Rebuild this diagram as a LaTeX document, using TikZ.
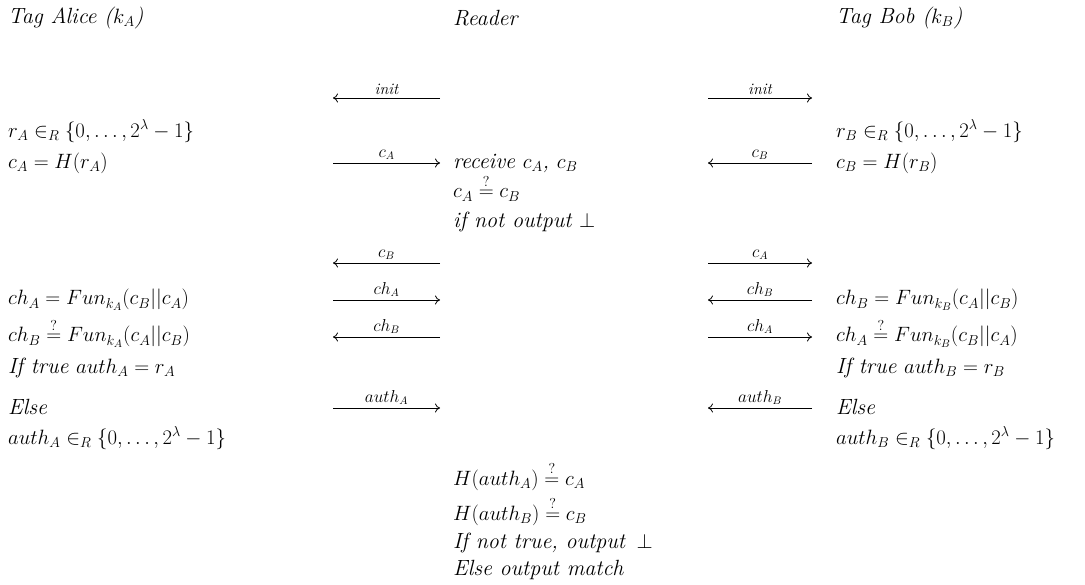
\documentclass[tikz,border=0pt]{standalone}
\usepackage{amssymb}
\usetikzlibrary{arrows.meta}
\newcommand{\qeq}{\mathrel{\smash{\stackrel{?}{=}}}}
\begin{document}
\begin{tikzpicture}[x=1pt,y=-1pt,
  txt/.style={anchor=west,inner sep=0pt,font=\fontsize{22}{26}\selectfont\itshape},
  msg/.style={thick,-{To[length=5pt,width=9pt]}},
  lbl/.style={midway,above=3pt,inner sep=0pt,font=\fontsize{16}{18}\selectfont\itshape}]
\useasboundingbox (0,0) rectangle (1085,585);
% headers
\node[txt] (alice) at (8,18) {Tag Alice ($k_A$)};
\node[txt] (reader) at (453,18) {Reader};
\node[txt] (bob) at (836,18) {Tag Bob ($k_B$)};
% Alice
\node[txt] (a1) at (8,131) {$r_A \in_R \{0,\ldots,2^\lambda-1\}$};
\node[txt] (a2) at (8,163) {$c_A = H(r_A)$};
\node[txt] (a3) at (8,300) {$ch_A = Fun_{k_A}(c_B||c_A)$};
\node[txt] (a4) at (8,337) {$ch_B \qeq Fun_{k_A}(c_A||c_B)$};
\node[txt] (a5) at (8,368) {If true $auth_A = r_A$};
\node[txt] (a6) at (8,407) {Else};
\node[txt] (a7) at (8,438) {$auth_A \in_R \{0,\ldots,2^\lambda-1\}$};
% Bob
\node[txt] (b1) at (836,131) {$r_B \in_R \{0,\ldots,2^\lambda-1\}$};
\node[txt] (b2) at (836,163) {$c_B = H(r_B)$};
\node[txt] (b3) at (836,300) {$ch_B = Fun_{k_B}(c_A||c_B)$};
\node[txt] (b4) at (836,337) {$ch_A \qeq Fun_{k_B}(c_B||c_A)$};
\node[txt] (b5) at (836,368) {If true $auth_B = r_B$};
\node[txt] (b6) at (836,407) {Else};
\node[txt] (b7) at (836,438) {$auth_B \in_R \{0,\ldots,2^\lambda-1\}$};
% Reader
\node[txt] (r1) at (453,163) {receive $c_A$, $c_B$};
\node[txt] (r2) at (453,195) {$c_A \qeq c_B$};
\node[txt] (r3) at (453,222) {if not output $\perp$};
\node[txt] (r4) at (453,480) {$H(auth_A) \qeq c_A$};
\node[txt] (r5) at (453,515) {$H(auth_B) \qeq c_B$};
\node[txt] (r6) at (453,543) {If not true, output\, $\perp$};
\node[txt] (r7) at (453,570) {Else output match};
% arrow end coordinates
\foreach \n/\y in {1/98,2/163,3/263,4/300,5/337,6/408}{
  \coordinate (L\n) at (333,\y);
  \coordinate (M\n) at (440,\y);
  \coordinate (N\n) at (708,\y);
  \coordinate (R\n) at (812,\y);
}
% left messages
\draw[msg] (M1) -- (L1) node[lbl] {init};
\draw[msg] (L2) -- (M2) node[lbl] {$c_A$};
\draw[msg] (M3) -- (L3) node[lbl] {$c_B$};
\draw[msg] (L4) -- (M4) node[lbl] {$ch_A$};
\draw[msg] (M5) -- (L5) node[lbl] {$ch_B$};
\draw[msg] (L6) -- (M6) node[lbl] {$auth_A$};
% right messages
\draw[msg] (N1) -- (R1) node[lbl] {init};
\draw[msg] (R2) -- (N2) node[lbl] {$c_B$};
\draw[msg] (N3) -- (R3) node[lbl] {$c_A$};
\draw[msg] (R4) -- (N4) node[lbl] {$ch_B$};
\draw[msg] (N5) -- (R5) node[lbl] {$ch_A$};
\draw[msg] (R6) -- (N6) node[lbl] {$auth_B$};
\end{tikzpicture}
\end{document}
